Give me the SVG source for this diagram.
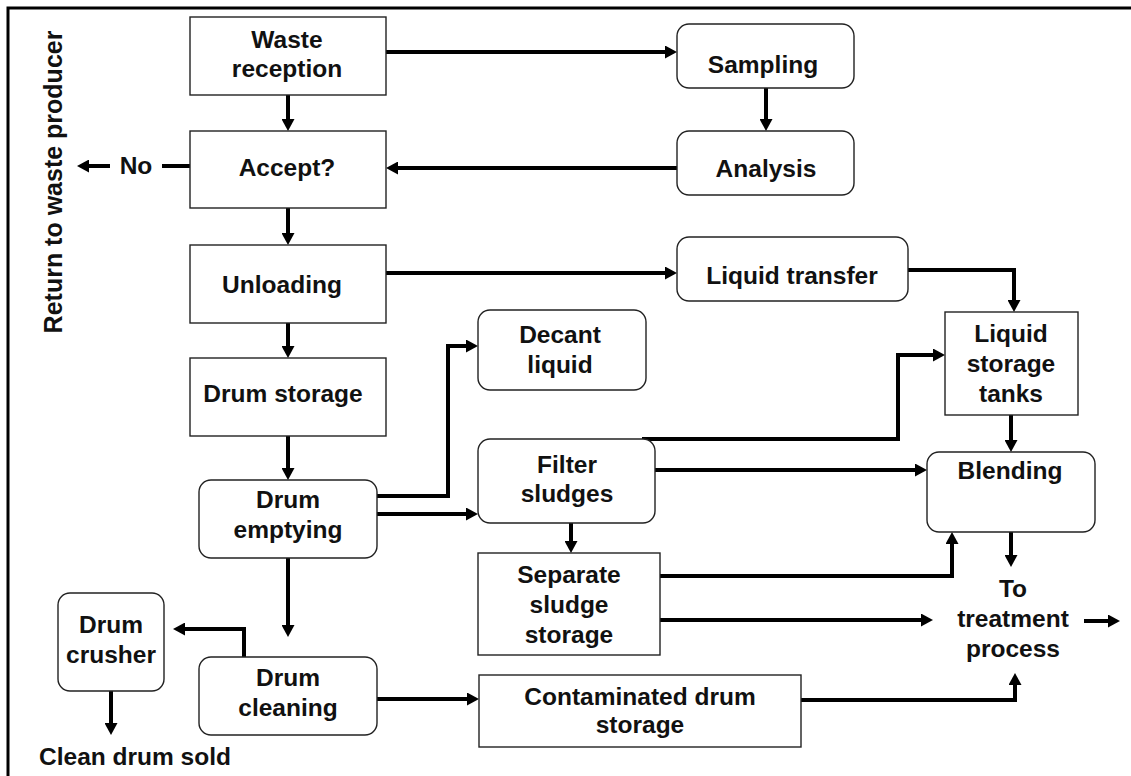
<svg xmlns="http://www.w3.org/2000/svg" width="1131" height="776" viewBox="0 0 1131 776">
  <style>
    text { font-family: "Liberation Sans", Arial, sans-serif; font-weight: bold; font-size: 24.5px; fill: #111; text-anchor: middle; }
    .box { fill: #fff; stroke: #222; stroke-width: 1.4; }
    .flow { fill: none; stroke: #000; stroke-width: 4; stroke-linejoin: miter; }
    .arr { marker-end: url(#head); }
    .frame { stroke: #000; stroke-width: 3; fill: none; }
  </style>
  <defs>
    <marker id="head" markerUnits="userSpaceOnUse" markerWidth="12" markerHeight="13" refX="8" refY="6.5" orient="auto">
      <path d="M0,0 L12,6.5 L0,13 z" fill="#000"/>
    </marker>
  </defs>

  <rect width="1131" height="776" fill="#fff"/>
  <!-- page frame (top and left edges) -->
  <path class="frame" d="M8,776 V8 H1131"/>

  <!-- connectors -->
  <g id="connectors">
    <path class="flow arr" d="M288,95 V127"/>
    <path class="flow arr" d="M386,52 H673"/>
    <path class="flow arr" d="M766,88 V127"/>
    <path class="flow arr" d="M677,168 H390"/>
    <path class="flow" d="M190,166 H162"/>
    <path class="flow arr" d="M110,166 H81"/>
    <path class="flow arr" d="M288,208 V241"/>
    <path class="flow arr" d="M386,273 H673"/>
    <path class="flow arr" d="M908,270 H1014 V308"/>
    <path class="flow arr" d="M288,323 V354"/>
    <path class="flow arr" d="M288,436 V476"/>
    <path class="flow arr" d="M377,496 H448 V346 H474"/>
    <path class="flow arr" d="M377,514 H474"/>
    <path class="flow arr" d="M642,439 H898 V355 H941"/>
    <path class="flow arr" d="M655,470 H923"/>
    <path class="flow arr" d="M1011,415 V448"/>
    <path class="flow arr" d="M571,523 V549"/>
    <path class="flow arr" d="M660,576 H952 V536"/>
    <path class="flow arr" d="M1011,532 V563"/>
    <path class="flow arr" d="M660,620 H929"/>
    <path class="flow arr" d="M1084,621 H1116"/>
    <path class="flow arr" d="M801,700 H1015 V677"/>
    <path class="flow arr" d="M288,558 V633"/>
    <path class="flow arr" d="M244,657 V629 H177"/>
    <path class="flow arr" d="M111,691 V731"/>
    <path class="flow arr" d="M377,699 H475"/>
  </g>

  <g id="waste-reception">
    <rect class="box" x="190" y="17" width="196" height="78"/>
    <text x="287" y="48">Waste</text>
    <text x="287" y="77">reception</text>
  </g>
  <g id="sampling">
    <rect class="box" x="677" y="24" width="177" height="64" rx="12"/>
    <text x="763" y="73">Sampling</text>
  </g>
  <g id="accept">
    <rect class="box" x="190" y="131" width="196" height="77"/>
    <text x="287" y="176">Accept?</text>
  </g>
  <g id="analysis">
    <rect class="box" x="677" y="131" width="177" height="64" rx="12"/>
    <text x="766" y="177">Analysis</text>
  </g>
  <g id="no-label">
    <text x="136" y="174">No</text>
  </g>
  <g id="return-label">
    <text transform="translate(62,182) rotate(-90)" x="0" y="0" style="font-size:25px">Return to waste producer</text>
  </g>
  <g id="unloading">
    <rect class="box" x="190" y="245" width="196" height="78"/>
    <text x="282" y="293">Unloading</text>
  </g>
  <g id="liquid-transfer">
    <rect class="box" x="677" y="237" width="231" height="64" rx="12"/>
    <text x="792" y="284">Liquid transfer</text>
  </g>
  <g id="drum-storage">
    <rect class="box" x="190" y="358" width="196" height="78"/>
    <text x="283" y="402">Drum storage</text>
  </g>
  <g id="decant-liquid">
    <rect class="box" x="478" y="310" width="168" height="80" rx="12"/>
    <text x="560" y="343">Decant</text>
    <text x="560" y="373">liquid</text>
  </g>
  <g id="liquid-storage-tanks">
    <rect class="box" x="945" y="312" width="133" height="103"/>
    <text x="1011" y="342">Liquid</text>
    <text x="1011" y="372">storage</text>
    <text x="1011" y="402">tanks</text>
  </g>
  <g id="filter-sludges">
    <rect class="box" x="478" y="439" width="177" height="84" rx="12"/>
    <text x="567" y="473">Filter</text>
    <text x="567" y="502">sludges</text>
  </g>
  <g id="blending">
    <rect class="box" x="927" y="452" width="168" height="80" rx="12"/>
    <text x="1010" y="479">Blending</text>
  </g>
  <g id="drum-emptying">
    <rect class="box" x="199" y="480" width="178" height="78" rx="12"/>
    <text x="288" y="508">Drum</text>
    <text x="288" y="538">emptying</text>
  </g>
  <g id="separate-sludge-storage">
    <rect class="box" x="478" y="553" width="182" height="102"/>
    <text x="569" y="583">Separate</text>
    <text x="569" y="613">sludge</text>
    <text x="569" y="643">storage</text>
  </g>
  <g id="to-treatment">
    <text x="1013" y="597">To</text>
    <text x="1013" y="627">treatment</text>
    <text x="1013" y="657">process</text>
  </g>
  <g id="drum-crusher">
    <rect class="box" x="58" y="593" width="106" height="98" rx="12"/>
    <text x="111" y="633">Drum</text>
    <text x="111" y="663">crusher</text>
  </g>
  <g id="drum-cleaning">
    <rect class="box" x="199" y="657" width="178" height="78" rx="12"/>
    <text x="288" y="686">Drum</text>
    <text x="288" y="716">cleaning</text>
  </g>
  <g id="contaminated-drum-storage">
    <rect class="box" x="479" y="675" width="322" height="72"/>
    <text x="640" y="705">Contaminated drum</text>
    <text x="640" y="733">storage</text>
  </g>
  <g id="clean-drum-sold">
    <text x="135" y="765">Clean drum sold</text>
  </g>
</svg>
